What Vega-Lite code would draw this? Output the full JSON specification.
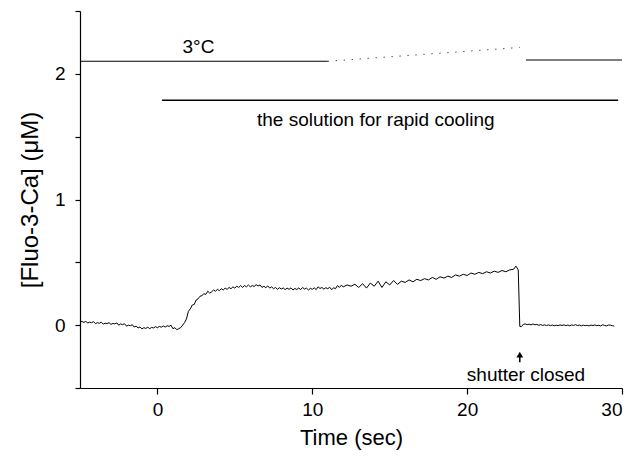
{
  "$schema": "https://vega.github.io/schema/vega-lite/v6.json",
  "width": 542,
  "height": 377,
  "autosize": {"type": "none"},
  "padding": {"left": 80, "top": 11, "right": 22, "bottom": 71},
  "background": "white",
  "config": {
    "view": {"stroke": null},
    "font": "Liberation Sans",
    "axis": {"grid": false, "domainColor": "black", "tickColor": "black", "labelColor": "black", "titleColor": "black", "labelFont": "Liberation Sans", "titleFont": "Liberation Sans", "titleFontWeight": "normal", "domainWidth": 1.2, "tickWidth": 1.2}
  },
  "datasets": {
    "trace": [
      {"t": -5.0, "v": 0.025}, {"t": -4.875, "v": 0.03}, {"t": -4.75, "v": 0.022}, {"t": -4.625, "v": 0.03},
      {"t": -4.5, "v": 0.018}, {"t": -4.375, "v": 0.024}, {"t": -4.25, "v": 0.02}, {"t": -4.125, "v": 0.028},
      {"t": -4.0, "v": 0.012}, {"t": -3.875, "v": 0.02}, {"t": -3.75, "v": 0.015}, {"t": -3.625, "v": 0.024},
      {"t": -3.5, "v": 0.008}, {"t": -3.375, "v": 0.016}, {"t": -3.25, "v": 0.012}, {"t": -3.125, "v": 0.02},
      {"t": -3.0, "v": 0.006}, {"t": -2.875, "v": 0.014}, {"t": -2.75, "v": 0.01}, {"t": -2.625, "v": 0.018},
      {"t": -2.5, "v": 0.0}, {"t": -2.375, "v": 0.01}, {"t": -2.25, "v": 0.004}, {"t": -2.125, "v": 0.012},
      {"t": -2.0, "v": -0.008}, {"t": -1.875, "v": 0.0}, {"t": -1.75, "v": -0.004}, {"t": -1.625, "v": 0.004},
      {"t": -1.5, "v": -0.015}, {"t": -1.375, "v": -0.008}, {"t": -1.25, "v": -0.022}, {"t": -1.125, "v": -0.014},
      {"t": -1.0, "v": -0.03}, {"t": -0.875, "v": -0.02}, {"t": -0.75, "v": -0.026}, {"t": -0.625, "v": -0.016},
      {"t": -0.5, "v": -0.028}, {"t": -0.375, "v": -0.018}, {"t": -0.25, "v": -0.022}, {"t": -0.125, "v": -0.012},
      {"t": 0.0, "v": -0.02}, {"t": 0.125, "v": -0.01}, {"t": 0.25, "v": -0.016}, {"t": 0.375, "v": -0.006},
      {"t": 0.5, "v": -0.015}, {"t": 0.625, "v": -0.005}, {"t": 0.75, "v": -0.01}, {"t": 0.875, "v": 0.0},
      {"t": 1.0, "v": -0.028}, {"t": 1.125, "v": -0.02}, {"t": 1.25, "v": -0.036}, {"t": 1.375, "v": -0.028},
      {"t": 1.5, "v": -0.02}, {"t": 1.625, "v": 0.0}, {"t": 1.75, "v": 0.02}, {"t": 1.875, "v": 0.05},
      {"t": 2.0, "v": 0.11}, {"t": 2.125, "v": 0.13}, {"t": 2.25, "v": 0.16}, {"t": 2.375, "v": 0.165},
      {"t": 2.5, "v": 0.2}, {"t": 2.625, "v": 0.21}, {"t": 2.75, "v": 0.23}, {"t": 2.875, "v": 0.235},
      {"t": 3.0, "v": 0.25}, {"t": 3.125, "v": 0.245}, {"t": 3.25, "v": 0.27}, {"t": 3.375, "v": 0.255},
      {"t": 3.5, "v": 0.265}, {"t": 3.625, "v": 0.28}, {"t": 3.75, "v": 0.27}, {"t": 3.875, "v": 0.285},
      {"t": 4.0, "v": 0.275}, {"t": 4.125, "v": 0.29}, {"t": 4.25, "v": 0.28}, {"t": 4.375, "v": 0.295},
      {"t": 4.5, "v": 0.285}, {"t": 4.625, "v": 0.3}, {"t": 4.75, "v": 0.29}, {"t": 4.875, "v": 0.305},
      {"t": 5.0, "v": 0.295}, {"t": 5.125, "v": 0.31}, {"t": 5.25, "v": 0.3}, {"t": 5.375, "v": 0.315},
      {"t": 5.5, "v": 0.3}, {"t": 5.625, "v": 0.315}, {"t": 5.75, "v": 0.305}, {"t": 5.875, "v": 0.32},
      {"t": 6.0, "v": 0.305}, {"t": 6.125, "v": 0.315}, {"t": 6.25, "v": 0.308}, {"t": 6.375, "v": 0.322},
      {"t": 6.5, "v": 0.312}, {"t": 6.625, "v": 0.32}, {"t": 6.75, "v": 0.3}, {"t": 6.875, "v": 0.31},
      {"t": 7.0, "v": 0.298}, {"t": 7.125, "v": 0.312}, {"t": 7.25, "v": 0.295}, {"t": 7.375, "v": 0.305},
      {"t": 7.5, "v": 0.29}, {"t": 7.625, "v": 0.3}, {"t": 7.75, "v": 0.285}, {"t": 7.875, "v": 0.298},
      {"t": 8.0, "v": 0.288}, {"t": 8.125, "v": 0.296}, {"t": 8.25, "v": 0.283}, {"t": 8.375, "v": 0.295},
      {"t": 8.5, "v": 0.285}, {"t": 8.625, "v": 0.297}, {"t": 8.75, "v": 0.28}, {"t": 8.875, "v": 0.292},
      {"t": 9.0, "v": 0.284}, {"t": 9.125, "v": 0.296}, {"t": 9.25, "v": 0.283}, {"t": 9.375, "v": 0.3},
      {"t": 9.5, "v": 0.287}, {"t": 9.625, "v": 0.295}, {"t": 9.75, "v": 0.28}, {"t": 9.875, "v": 0.293},
      {"t": 10.0, "v": 0.285}, {"t": 10.125, "v": 0.297}, {"t": 10.25, "v": 0.283}, {"t": 10.375, "v": 0.305},
      {"t": 10.5, "v": 0.292}, {"t": 10.625, "v": 0.3}, {"t": 10.75, "v": 0.287}, {"t": 10.875, "v": 0.298},
      {"t": 11.0, "v": 0.29}, {"t": 11.125, "v": 0.302}, {"t": 11.25, "v": 0.282}, {"t": 11.375, "v": 0.298},
      {"t": 11.5, "v": 0.29}, {"t": 11.625, "v": 0.315}, {"t": 11.75, "v": 0.3}, {"t": 11.875, "v": 0.318},
      {"t": 12.0, "v": 0.305}, {"t": 12.25, "v": 0.32}, {"t": 12.5, "v": 0.31}, {"t": 12.75, "v": 0.325},
      {"t": 13.0, "v": 0.3}, {"t": 13.25, "v": 0.33}, {"t": 13.5, "v": 0.295}, {"t": 13.75, "v": 0.335},
      {"t": 14.0, "v": 0.31}, {"t": 14.25, "v": 0.35}, {"t": 14.5, "v": 0.3}, {"t": 14.75, "v": 0.345},
      {"t": 15.0, "v": 0.32}, {"t": 15.25, "v": 0.355}, {"t": 15.5, "v": 0.325}, {"t": 15.75, "v": 0.35},
      {"t": 16.0, "v": 0.34}, {"t": 16.25, "v": 0.36}, {"t": 16.5, "v": 0.345}, {"t": 16.75, "v": 0.365},
      {"t": 17.0, "v": 0.355}, {"t": 17.25, "v": 0.37}, {"t": 17.5, "v": 0.36}, {"t": 17.75, "v": 0.38},
      {"t": 18.0, "v": 0.365}, {"t": 18.25, "v": 0.385}, {"t": 18.5, "v": 0.375}, {"t": 18.75, "v": 0.39},
      {"t": 19.0, "v": 0.38}, {"t": 19.25, "v": 0.4}, {"t": 19.5, "v": 0.39}, {"t": 19.75, "v": 0.405},
      {"t": 20.0, "v": 0.395}, {"t": 20.25, "v": 0.415}, {"t": 20.5, "v": 0.405}, {"t": 20.75, "v": 0.42},
      {"t": 21.0, "v": 0.41}, {"t": 21.25, "v": 0.425}, {"t": 21.5, "v": 0.415}, {"t": 21.75, "v": 0.43},
      {"t": 22.0, "v": 0.42}, {"t": 22.25, "v": 0.435}, {"t": 22.5, "v": 0.425}, {"t": 22.75, "v": 0.44},
      {"t": 23.0, "v": 0.445}, {"t": 23.15, "v": 0.47}, {"t": 23.3, "v": 0.44}, {"t": 23.4, "v": -0.01},
      {"t": 23.5, "v": -0.012}, {"t": 23.625, "v": 0.006}, {"t": 23.75, "v": 0.01}, {"t": 23.875, "v": 0.004},
      {"t": 24.0, "v": 0.008}, {"t": 24.125, "v": 0.002}, {"t": 24.25, "v": 0.01}, {"t": 24.375, "v": 0.003},
      {"t": 24.5, "v": 0.006}, {"t": 24.625, "v": -0.001}, {"t": 24.75, "v": 0.004}, {"t": 24.875, "v": -0.002},
      {"t": 25.0, "v": 0.003}, {"t": 25.125, "v": -0.003}, {"t": 25.25, "v": 0.002}, {"t": 25.375, "v": -0.004},
      {"t": 25.5, "v": 0.001}, {"t": 25.625, "v": -0.005}, {"t": 25.75, "v": 0.0}, {"t": 25.875, "v": -0.004},
      {"t": 26.0, "v": 0.002}, {"t": 26.125, "v": -0.003}, {"t": 26.25, "v": 0.003}, {"t": 26.375, "v": -0.004},
      {"t": 26.5, "v": 0.001}, {"t": 26.625, "v": -0.005}, {"t": 26.75, "v": 0.002}, {"t": 26.875, "v": -0.002},
      {"t": 27.0, "v": 0.004}, {"t": 27.125, "v": -0.003}, {"t": 27.25, "v": 0.001}, {"t": 27.375, "v": -0.005},
      {"t": 27.5, "v": 0.0}, {"t": 27.625, "v": -0.004}, {"t": 27.75, "v": -0.001}, {"t": 27.875, "v": -0.006},
      {"t": 28.0, "v": 0.001}, {"t": 28.125, "v": -0.003}, {"t": 28.25, "v": 0.002}, {"t": 28.375, "v": -0.004},
      {"t": 28.5, "v": -0.001}, {"t": 28.625, "v": -0.006}, {"t": 28.75, "v": 0.003}, {"t": 28.875, "v": -0.002},
      {"t": 29.0, "v": -0.006}, {"t": 29.125, "v": 0.001}, {"t": 29.25, "v": 0.0}, {"t": 29.375, "v": -0.004},
      {"t": 29.5, "v": -0.008}
    ],
    "segments": [
      {"x1": -5, "x2": 11, "y1": 2.1, "y2": 2.1, "kind": "solid", "w": 1.2},
      {"x1": 23.8, "x2": 30, "y1": 2.11, "y2": 2.11, "kind": "solid", "w": 1.2},
      {"x1": 0.3, "x2": 29.75, "y1": 1.79, "y2": 1.79, "kind": "solid", "w": 1.6},
      {"x1": 11, "x2": 23.4, "y1": 2.1, "y2": 2.21, "kind": "dotted", "w": 1.2}
    ],
    "labels": [
      {"x": 2.65, "y": 2.21, "text": "3°C"},
      {"x": 14.1, "y": 1.63, "text": "the solution for rapid cooling"},
      {"x": 23.8, "y": -0.4, "text": "shutter closed"}
    ],
    "arrow": [
      {"x": 23.4, "y1": -0.295, "y2": -0.235}
    ]
  },
  "layer": [
    {
      "data": {"name": "trace"},
      "mark": {"type": "line", "color": "black", "strokeWidth": 1, "clip": true},
      "encoding": {
        "x": {"field": "t", "type": "quantitative", "scale": {"domain": [-5, 30], "nice": false, "zero": false},
              "axis": {"values": [0, 10, 20, 30], "title": "Time (sec)", "labelFontSize": 19, "titleFontSize": 22, "tickSize": 6, "labelPadding": 6, "titlePadding": 8}},
        "y": {"field": "v", "type": "quantitative", "scale": {"domain": [-0.5, 2.5], "nice": false, "zero": false},
              "axis": {"values": [-0.5, 0, 0.5, 1, 1.5, 2, 2.5], "labelExpr": "datum.value % 1 === 0 ? '' + datum.value : ''", "title": "[Fluo-3-Ca] (μM)", "labelFontSize": 19, "titleFontSize": 24, "tickSize": 5, "labelPadding": 10, "titlePadding": 12}}
      }
    },
    {
      "data": {"name": "segments"},
      "transform": [{"filter": "datum.kind === 'solid'"}],
      "mark": {"type": "rule", "color": "black"},
      "encoding": {
        "x": {"field": "x1", "type": "quantitative"},
        "x2": {"field": "x2"},
        "y": {"field": "y1", "type": "quantitative"},
        "y2": {"field": "y2"},
        "strokeWidth": {"field": "w", "type": "quantitative", "scale": null}
      }
    },
    {
      "data": {"name": "segments"},
      "transform": [{"filter": "datum.kind === 'dotted'"}],
      "mark": {"type": "rule", "color": "black", "strokeWidth": 1, "strokeDash": [1, 7]},
      "encoding": {
        "x": {"field": "x1", "type": "quantitative"},
        "x2": {"field": "x2"},
        "y": {"field": "y1", "type": "quantitative"},
        "y2": {"field": "y2"}
      }
    },
    {
      "data": {"name": "labels"},
      "mark": {"type": "text", "fontSize": 19, "color": "black", "font": "Liberation Sans", "align": "center", "baseline": "middle"},
      "encoding": {
        "x": {"field": "x", "type": "quantitative"},
        "y": {"field": "y", "type": "quantitative"},
        "text": {"field": "text"}
      }
    },
    {
      "data": {"name": "arrow"},
      "mark": {"type": "rule", "color": "black", "strokeWidth": 1.5},
      "encoding": {
        "x": {"field": "x", "type": "quantitative"},
        "y": {"field": "y1", "type": "quantitative"},
        "y2": {"field": "y2"}
      }
    },
    {
      "data": {"name": "arrow"},
      "mark": {"type": "point", "shape": "triangle-up", "filled": true, "color": "black", "size": 45, "opacity": 1},
      "encoding": {
        "x": {"field": "x", "type": "quantitative"},
        "y": {"field": "y2", "type": "quantitative"}
      }
    }
  ]
}
